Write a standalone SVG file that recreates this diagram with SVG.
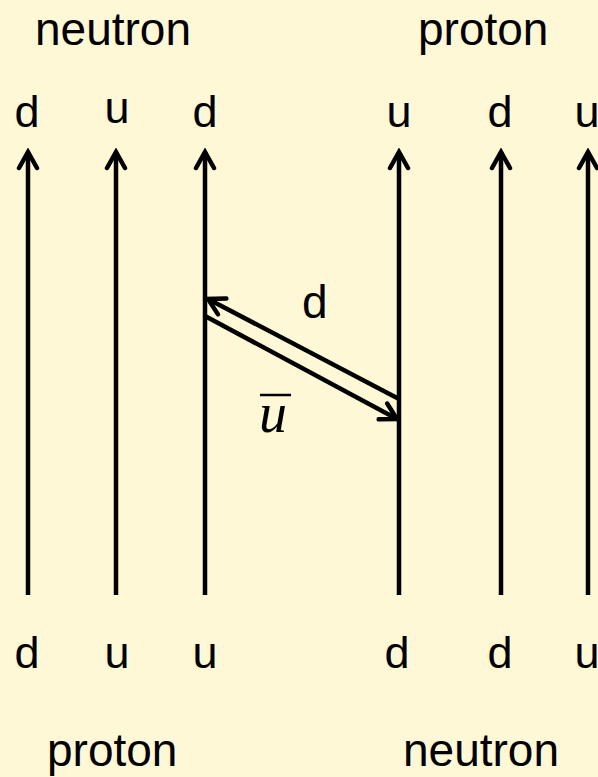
<svg xmlns="http://www.w3.org/2000/svg" width="598" height="777" viewBox="0 0 598 777">
<defs>
<marker id="ah" viewBox="-20 -12 24 24" markerWidth="24" markerHeight="24" refX="0" refY="0" orient="auto" markerUnits="userSpaceOnUse">
<path d="M-16,-9 L0,0 L-16,9" fill="none" stroke="#000" stroke-width="4.5" stroke-linecap="round" stroke-linejoin="miter"/>
</marker>
<style>
.t{font-family:"Liberation Sans",Arial,sans-serif;font-size:46px;fill:#000}
.q{font-family:"Liberation Sans",Arial,sans-serif;font-size:45px;fill:#000;text-anchor:middle}
.ln{stroke:#000;stroke-width:4.5;fill:none;marker-end:url(#ah)}
</style>
</defs>
<rect width="598" height="777" fill="#FFF8D6"/>
<g id="labels">
<text class="t" x="35" y="45">neutron</text>
<text class="t" x="418" y="45">proton</text>
<text class="t" x="47" y="766">proton</text>
<text class="t" x="403" y="766">neutron</text>
</g>
<g id="top-quarks">
<text class="q" x="27" y="127">d</text>
<text class="q" x="117" y="123">u</text>
<text class="q" x="205" y="127">d</text>
<text class="q" x="399" y="127">u</text>
<text class="q" x="500" y="127">d</text>
<text class="q" x="587" y="127">u</text>
</g>
<g id="bottom-quarks">
<text class="q" x="27" y="668">d</text>
<text class="q" x="117" y="668">u</text>
<text class="q" x="205" y="668">u</text>
<text class="q" x="397" y="668">d</text>
<text class="q" x="500" y="668">d</text>
<text class="q" x="587" y="668">u</text>
</g>
<g id="connectors">
<line class="ln" x1="28" y1="595" x2="28" y2="152"/>
<line class="ln" x1="116" y1="595" x2="116" y2="152"/>
<line class="ln" x1="205" y1="595" x2="205" y2="152"/>
<line class="ln" x1="399" y1="595" x2="399" y2="152"/>
<line class="ln" x1="501" y1="595" x2="501" y2="152"/>
<line class="ln" x1="588" y1="595" x2="588" y2="152"/>
<line class="ln" x1="399" y1="399" x2="208" y2="299"/>
<line class="ln" x1="205" y1="316" x2="397" y2="419"/>
</g>
<g id="exchange-labels">
<text class="t" x="302" y="318">d</text>
<text x="259" y="432" font-family="'Liberation Serif','Times New Roman',serif" font-style="italic" font-size="56">u</text>
<line x1="260" y1="395" x2="291" y2="395" stroke="#000" stroke-width="2.5"/>
</g>
</svg>
